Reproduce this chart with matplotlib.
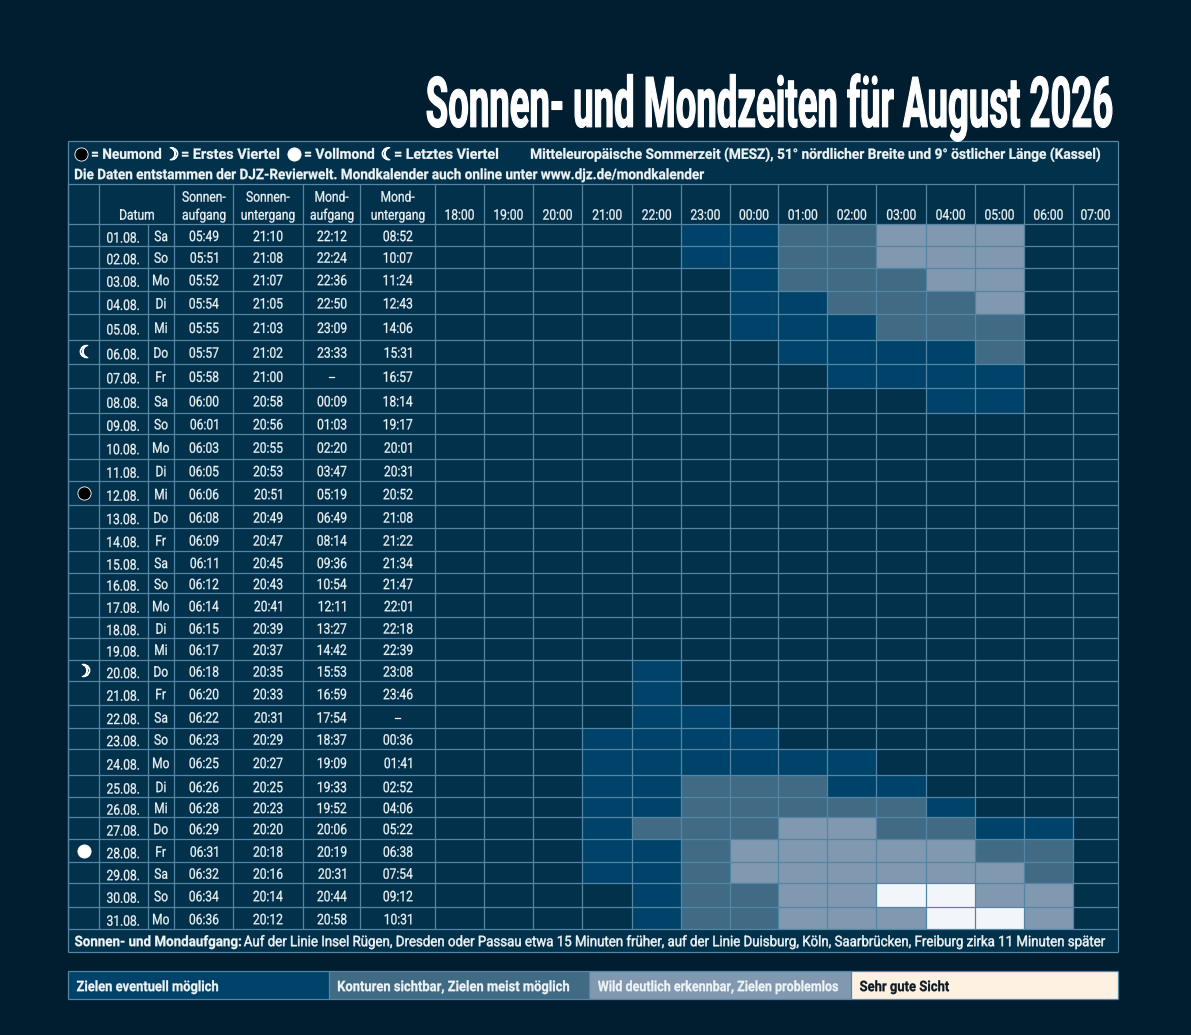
import numpy as np
import matplotlib
matplotlib.use("Agg")
import matplotlib.pyplot as plt
from matplotlib.colors import ListedColormap, to_rgba
from matplotlib.font_manager import FontProperties
from matplotlib.text import Text
from matplotlib.textpath import TextPath
from matplotlib.transforms import Affine2D

# data
dates = ["%02d.08." % d for d in range(1, 32)]
weekdays = ["Sa", "So", "Mo", "Di", "Mi", "Do", "Fr", "Sa", "So", "Mo", "Di", "Mi", "Do", "Fr", "Sa", "So",
            "Mo", "Di", "Mi", "Do", "Fr", "Sa", "So", "Mo", "Di", "Mi", "Do", "Fr", "Sa", "So", "Mo"]
sunrise = ["05:49", "05:51", "05:52", "05:54", "05:55", "05:57", "05:58", "06:00", "06:01", "06:03", "06:05",
           "06:06", "06:08", "06:09", "06:11", "06:12", "06:14", "06:15", "06:17", "06:18", "06:20", "06:22",
           "06:23", "06:25", "06:26", "06:28", "06:29", "06:31", "06:32", "06:34", "06:36"]
sunset = ["21:10", "21:08", "21:07", "21:05", "21:03", "21:02", "21:00", "20:58", "20:56", "20:55", "20:53",
          "20:51", "20:49", "20:47", "20:45", "20:43", "20:41", "20:39", "20:37", "20:35", "20:33", "20:31",
          "20:29", "20:27", "20:25", "20:23", "20:20", "20:18", "20:16", "20:14", "20:12"]
moonrise = ["22:12", "22:24", "22:36", "22:50", "23:09", "23:33", "--", "00:09", "01:03", "02:20", "03:47",
            "05:19", "06:49", "08:14", "09:36", "10:54", "12:11", "13:27", "14:42", "15:53", "16:59", "17:54",
            "18:37", "19:09", "19:33", "19:52", "20:06", "20:19", "20:31", "20:44", "20:58"]
moonset = ["08:52", "10:07", "11:24", "12:43", "14:06", "15:31", "16:57", "18:14", "19:17", "20:01", "20:31",
           "20:52", "21:08", "21:22", "21:34", "21:47", "22:01", "22:18", "22:39", "23:08", "23:46", "--",
           "00:36", "01:41", "02:52", "04:06", "05:22", "06:38", "07:54", "09:12", "10:31"]
hours = ["18:00", "19:00", "20:00", "21:00", "22:00", "23:00", "00:00", "01:00", "02:00", "03:00", "04:00",
         "05:00", "06:00", "07:00"]
# one digit per hour: 0 none, 1 eventuell, 2 Konturen, 3 Wild deutlich, 4 sehr gut
visibility = ["00000112233300", "00000112233300", "00000012223300", "00000011222300", "00000011122200",
              "00000001111200", "00000000111100", "00000000001100", "00000000000000", "00000000000000",
              "00000000000000", "00000000000000", "00000000000000", "00000000000000", "00000000000000",
              "00000000000000", "00000000000000", "00000000000000", "00000000000000", "00001000000000",
              "00001000000000", "00001100000000", "00011110000000", "00011111100000", "00011222110000",
              "00011222221000", "00012223322110", "00011233333220", "00011233333320", "00001223344330",
              "00001223334430"]
new_moon_days = [12]
full_moon_days = [28]
first_quarter_days = [20]
last_quarter_days = [6]
legend_labels = ["Zielen eventuell möglich", "Konturen sichtbar, Zielen meist möglich",
                 "Wild deutlich erkennbar, Zielen problemlos", "Sehr gute Sicht"]
legend_widths = [141, 231, 240, 89]

# layout, all in pixels of the 1191x1035 picture
row_edges = [224.3, 246, 267.5, 291, 314, 340, 363.5, 388.3, 412.5, 434.3, 459.3, 481.3, 505.3, 528, 551.3, 573,
             593.3, 617.3, 638, 660, 681.3, 705.2, 728, 749.3, 775, 797.3, 817, 839.3, 862.3, 883.3, 907.3, 929.3]
col_edges = [68, 99, 147.7, 174.3, 233.3, 303.3, 360, 435.3]
hour_edges = [435.3, 484, 533, 582, 632.3, 681, 729.7, 778.3, 827.3, 876.3, 926.3, 975, 1024, 1072.7, 1118.3]
legend_edges = [68, 329, 589, 851, 1118.3]

BG = "#011d30"
TABLE = "#01314b"
LINE = "#5585a5"
LEVELS = [TABLE, "#00436a", "#416b84", "#8099b0", "#f2f6fb"]
CREAM = "#fff1e1"
WHITE = "#eef3f6"
LW = 0.9


class SqueezedText(Text):
    # a normal Text whose glyphs get squeezed sideways, since no condensed font is installed
    def __init__(self, x, y, s, size, sx=0.83, width=None, grow=0.2, box_center=False, **kw):
        super().__init__(x, y, s, **kw)
        self.px_size = size
        self.sx = sx
        self.target_width = width
        self.grow = grow
        self.box_center = box_center

    def _outline(self):
        fp = FontProperties(family=self.get_fontfamily(), weight=self.get_fontweight())
        path = TextPath((0, 0), self.get_text(), size=self.px_size, prop=fp)
        box = path.get_extents()
        sx = self.target_width / box.width if self.target_width else self.sx
        x, y = self.get_position()
        if self.box_center:
            dy = (box.y0 + box.y1) / 2
        else:
            dy = 0.355 * self.px_size
        px, py = self.axes.transData.transform((x, y))
        shift = {"left": box.x0, "center": (box.x0 + box.x1) / 2, "right": box.x1}[self.get_ha()]
        return path, Affine2D().translate(-shift, -dy).scale(sx, 1).translate(px, py)

    def draw(self, renderer):
        path, trans = self._outline()
        gc = renderer.new_gc()
        color = to_rgba(self.get_color())
        gc.set_foreground(color)
        gc.set_linewidth(self.grow)
        renderer.draw_path(gc, path, trans, rgbFace=color)
        gc.restore()

    def get_window_extent(self, renderer=None, dpi=None):
        path, trans = self._outline()
        return path.get_extents(trans)


fig = plt.figure(figsize=(11.91, 10.35), dpi=100, facecolor=BG)
ax = fig.add_axes([0, 0, 1, 1])
ax.set_xlim(0, 1191)
ax.set_ylim(1035, 0)
ax.axis("off")


def txt(x, y, s, size=14.5, weight="normal", color=WHITE, ha="center", **kw):
    t = SqueezedText(x, y, s, size, color=color, family="Roboto", fontweight=weight, ha=ha, **kw)
    ax.add_artist(t)


def moon_disc(x, y, face):
    ax.plot([x], [y], "o", ms=9.5, mfc=face, mec="white", mew=0.6, zorder=4)


def crescent(x, y, glyph):
    t = SqueezedText(x, y, glyph, 17, sx=1.0, grow=0.8, box_center=True, color="white",
                     family="DejaVu Sans", ha="center")
    ax.add_artist(t)


# table background
ax.pcolormesh([68, 1118.3], [141, 952.3], [[0]], cmap=ListedColormap([TABLE]))

# hour cells
levels = np.array([[int(c) for c in row] for row in visibility])
ax.pcolormesh(hour_edges, row_edges, levels, cmap=ListedColormap(LEVELS), vmin=-0.5, vmax=4.5)

# grid and frame
ax.hlines([141, 184.3, 952.3], 68, 1118.3, color=LINE, lw=LW)
ax.vlines([68, 1118.3], 141, 952.3, color=LINE, lw=LW)
ax.hlines(row_edges, 68, 1118.3, color=LINE, lw=LW)
ax.vlines(col_edges + hour_edges[1:-1], 224.3, 929.3, color=LINE, lw=LW)
ax.vlines([e for e in col_edges if e != 147.7] + hour_edges[1:-1], 184.3, 224.3, color=LINE, lw=LW)

# title
ax.add_artist(SqueezedText(427, 102, "Sonnen- und Mondzeiten für August 2026", 70, width=685, grow=0.8,
                           color="white", family="Roboto", fontweight="bold", ha="left"))

# info lines with the moon key
moon_y = 153.7
moon_disc(81, moon_y, "black")
moon_disc(294, moon_y, "white")
crescent(174, moon_y, "☽")
crescent(386, moon_y, "☾")
txt(92, moon_y, "= Neumond", weight="bold", ha="left", width=69)
txt(182, moon_y, "= Erstes Viertel", weight="bold", ha="left", width=97)
txt(305, moon_y, "= Vollmond", weight="bold", ha="left", width=69)
txt(395, moon_y, "= Letztes Viertel", weight="bold", ha="left", width=103)
txt(531, moon_y, "Mitteleuropäische Sommerzeit (MESZ), 51° nördlicher Breite und 9° östlicher Länge (Kassel)",
    weight="bold", ha="left", width=569)
txt(75, 174, "Die Daten entstammen der DJZ-Revierwelt. Mondkalender auch online unter www.djz.de/mondkalender",
    weight="bold", ha="left", width=629)

# header
header_x = [204, 268, 332, 398]
header_top = ["Sonnen-", "Sonnen-", "Mond-", "Mond-"]
header_bottom = ["aufgang", "untergang", "aufgang", "untergang"]
for x, a, b in zip(header_x, header_top, header_bottom):
    txt(x, 196.5, a)
    txt(x, 214.5, b)
txt(137, 214.5, "Datum")
for i, h in enumerate(hours):
    txt((hour_edges[i] + hour_edges[i + 1]) / 2, 214.5, h)

# rows
for i in range(len(dates)):
    yc = (row_edges[i] + row_edges[i + 1]) / 2 + 0.8
    txt(123, yc + 1.5, dates[i])
    txt(161, yc, weekdays[i])
    txt(204, yc, sunrise[i])
    txt(268, yc, sunset[i])
    txt(332, yc, moonrise[i])
    txt(398, yc, moonset[i])
    day = i + 1
    if day in new_moon_days:
        moon_disc(84, yc - 1, "black")
    if day in full_moon_days:
        moon_disc(84, yc - 1, "white")
    if day in first_quarter_days:
        crescent(86, yc - 1, "☽")
    if day in last_quarter_days:
        crescent(84, yc - 1, "☾")

# footer
txt(75, 941, "Sonnen- und Mondaufgang:", weight="bold", ha="left", width=166)
txt(244, 941, "Auf der Linie Insel Rügen, Dresden oder Passau etwa 15 Minuten früher, auf der Linie Duisburg, "
    "Köln, Saarbrücken, Freiburg zirka 11 Minuten später", ha="left", width=861, grow=0.35)

# colour legend
ax.pcolormesh(legend_edges, [971, 999.3], [[0, 1, 2, 3]], cmap=ListedColormap(LEVELS[1:4] + [CREAM]))
ax.hlines([971, 999.3], 68, 1118.3, color=LINE, lw=LW)
ax.vlines(legend_edges, 971, 999.3, color=LINE, lw=LW)
for i, label in enumerate(legend_labels):
    txt(legend_edges[i] + 9, 986, label, weight="bold", ha="left", width=legend_widths[i],
        color="#0b1a24" if i == 3 else WHITE)

fig.savefig("out.png", dpi=100, facecolor=BG)
